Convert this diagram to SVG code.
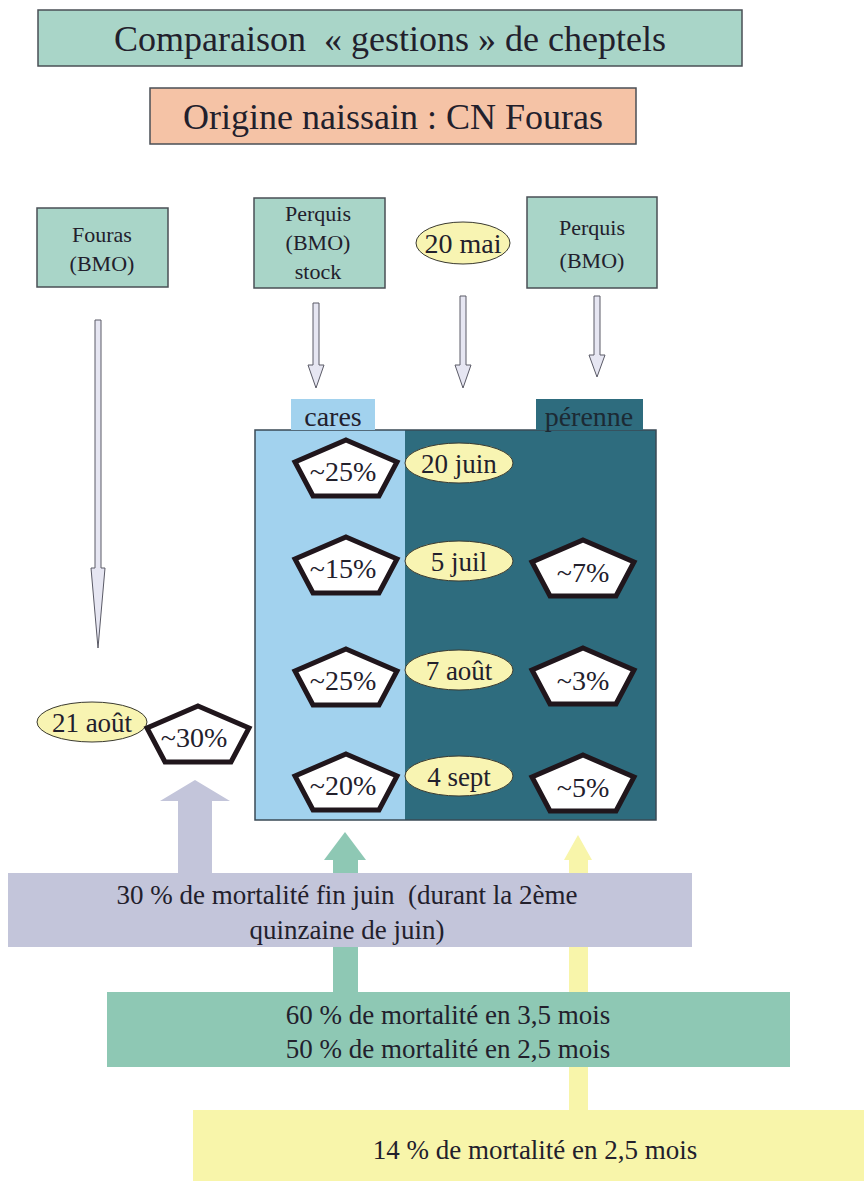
<svg xmlns="http://www.w3.org/2000/svg" width="864" height="1181" viewBox="0 0 864 1181">
<defs>
<path id="pent" d="M0,-29 L51,-7 L33,27 L-33,27 L-51,-7 Z" fill="#ffffff" stroke="#20161c" stroke-width="5"/>
</defs>
<rect width="864" height="1181" fill="#ffffff"/>

<g id="title">
<rect x="38" y="10" width="704" height="56" fill="#a9d5c8" stroke="#4a4f55" stroke-width="1.5"/>
<text x="390" y="51" font-size="36" font-family="Liberation Serif, serif" fill="#22202c" text-anchor="middle" xml:space="preserve">Comparaison  « gestions » de cheptels</text>
</g>
<g id="origine">
<rect x="150" y="88" width="486" height="56" fill="#f5c3a6" stroke="#4a4f55" stroke-width="1.5"/>
<text x="393" y="129" font-size="36" font-family="Liberation Serif, serif" fill="#22202c" text-anchor="middle">Origine naissain : CN Fouras</text>
</g>

<g id="fouras">
<rect x="37" y="208" width="131" height="79" fill="#a9d5c8" stroke="#4a4f55" stroke-width="1.5"/>
<text x="102" y="242" font-size="22" font-family="Liberation Serif, serif" fill="#22202c" text-anchor="middle">Fouras</text>
<text x="102" y="271" font-size="22" font-family="Liberation Serif, serif" fill="#22202c" text-anchor="middle">(BMO)</text>
</g>
<g id="perquis-stock">
<rect x="254" y="198" width="131" height="90" fill="#a9d5c8" stroke="#4a4f55" stroke-width="1.5"/>
<text x="318" y="221" font-size="22" font-family="Liberation Serif, serif" fill="#22202c" text-anchor="middle">Perquis</text>
<text x="318" y="250" font-size="22" font-family="Liberation Serif, serif" fill="#22202c" text-anchor="middle">(BMO)</text>
<text x="318" y="279" font-size="22" font-family="Liberation Serif, serif" fill="#22202c" text-anchor="middle">stock</text>
</g>
<g id="mai20">
<ellipse cx="463" cy="243" rx="47" ry="21" fill="#f8f4b2" stroke="#3a3a30" stroke-width="1"/>
<text x="463" y="253" font-size="28" font-family="Liberation Serif, serif" fill="#22202c" text-anchor="middle">20 mai</text>
</g>
<g id="perquis">
<rect x="527" y="197" width="130" height="91" fill="#a9d5c8" stroke="#4a4f55" stroke-width="1.5"/>
<text x="592" y="235" font-size="22" font-family="Liberation Serif, serif" fill="#22202c" text-anchor="middle">Perquis</text>
<text x="592" y="268" font-size="22" font-family="Liberation Serif, serif" fill="#22202c" text-anchor="middle">(BMO)</text>
</g>

<g id="connectors" fill="#e6e6f2" stroke="#5a5a66" stroke-width="1">
<path d="M95,320 H101 V568 H105 L98,648 L91,568 H95 Z"/>
<path d="M313,303 H319 V365 H324 L316,388 L308,365 H313 Z"/>
<path d="M460,296 H466 V365 H471 L463,388 L455,365 H460 Z"/>
<path d="M594,296 H600 V355 H605 L597,377 L589,355 H594 Z"/>
<path d="M455,486 H461 V518 H465 L458,535 L451,518 H455 Z"/>
<path d="M455,593 H461 V624 H465 L458,641 L451,624 H455 Z"/>
<path d="M455,699 H461 V728 H465 L458,745 L451,728 H455 Z"/>
<path d="M178,873 V801 H160 L195,780 L230,801 H212 V873 Z" fill="#c3c5da" stroke="none"/>
<path d="M333,992 V860 H324 L345,832 L366,860 H358 V992 Z" fill="#8ec8b4" stroke="none"/>
<path d="M569,1110 V860 H564 L578,835 L592,860 H588 V1110 Z" fill="#f8f5aa" stroke="none"/>
</g>

<g id="panel">
<rect x="255" y="430" width="150" height="390" fill="#a2d2ee"/>
<rect x="405" y="430" width="251" height="390" fill="#2e6c7e"/>
<rect x="255" y="430" width="401" height="390" fill="none" stroke="#3a4a55" stroke-width="1.5"/>
</g>
<g id="cares">
<rect x="291" y="399" width="84" height="31" fill="#a2d2ee"/>
<text x="333" y="426" font-size="28" font-family="Liberation Serif, serif" fill="#22202c" text-anchor="middle">cares</text>
</g>
<g id="perenne">
<rect x="536" y="399" width="107" height="31" fill="#2e6c7e"/>
<text x="589" y="426" font-size="28" font-family="Liberation Serif, serif" fill="#1c2a34" text-anchor="middle">pérenne</text>
</g>

<g id="dates">
<g id="d1"><ellipse cx="459" cy="463" rx="54" ry="20" fill="#f8f4b2" stroke="#3a3a30" stroke-width="1"/><text x="459" y="473" font-size="27" font-family="Liberation Serif, serif" fill="#22202c" text-anchor="middle">20 juin</text></g>
<g id="d2"><ellipse cx="459" cy="561" rx="54" ry="20" fill="#f8f4b2" stroke="#3a3a30" stroke-width="1"/><text x="459" y="571" font-size="27" font-family="Liberation Serif, serif" fill="#22202c" text-anchor="middle">5 juil</text></g>
<g id="d3"><ellipse cx="459" cy="670" rx="54" ry="20" fill="#f8f4b2" stroke="#3a3a30" stroke-width="1"/><text x="459" y="680" font-size="27" font-family="Liberation Serif, serif" fill="#22202c" text-anchor="middle">7 août</text></g>
<g id="d4"><ellipse cx="459" cy="776" rx="54" ry="20" fill="#f8f4b2" stroke="#3a3a30" stroke-width="1"/><text x="459" y="786" font-size="27" font-family="Liberation Serif, serif" fill="#22202c" text-anchor="middle">4 sept</text></g>
<g id="d5"><ellipse cx="92" cy="722" rx="55" ry="20" fill="#f8f4b2" stroke="#3a3a30" stroke-width="1"/><text x="92" y="732" font-size="27" font-family="Liberation Serif, serif" fill="#22202c" text-anchor="middle">21 août</text></g>
</g>

<g id="pentagons">
<g id="p1"><use href="#pent" x="346" y="469"/><text x="343" y="481" font-size="28" font-family="Liberation Serif, serif" fill="#22202c" text-anchor="middle">~25%</text></g>
<g id="p2"><use href="#pent" x="346" y="566"/><text x="343" y="578" font-size="28" font-family="Liberation Serif, serif" fill="#22202c" text-anchor="middle">~15%</text></g>
<g id="p3"><use href="#pent" x="346" y="678"/><text x="343" y="690" font-size="28" font-family="Liberation Serif, serif" fill="#22202c" text-anchor="middle">~25%</text></g>
<g id="p4"><use href="#pent" x="346" y="783"/><text x="343" y="795" font-size="28" font-family="Liberation Serif, serif" fill="#22202c" text-anchor="middle">~20%</text></g>
<g id="p5"><use href="#pent" x="583" y="569"/><text x="583" y="582" font-size="28" font-family="Liberation Serif, serif" fill="#22202c" text-anchor="middle">~7%</text></g>
<g id="p6"><use href="#pent" x="583" y="677"/><text x="583" y="690" font-size="28" font-family="Liberation Serif, serif" fill="#22202c" text-anchor="middle">~3%</text></g>
<g id="p7"><use href="#pent" x="583" y="784"/><text x="583" y="797" font-size="28" font-family="Liberation Serif, serif" fill="#22202c" text-anchor="middle">~5%</text></g>
<g id="p8"><use href="#pent" x="198" y="735"/><text x="194" y="747" font-size="28" font-family="Liberation Serif, serif" fill="#22202c" text-anchor="middle">~30%</text></g>
</g>

<g id="note-grey">
<rect x="8" y="873" width="684" height="74" fill="#c3c5da"/>
<text x="347" y="904" font-size="27" font-family="Liberation Serif, serif" fill="#22202c" text-anchor="middle" xml:space="preserve">30 % de mortalité fin juin  (durant la 2ème</text>
<text x="347" y="939" font-size="27" font-family="Liberation Serif, serif" fill="#22202c" text-anchor="middle">quinzaine de juin)</text>
</g>
<g id="note-teal">
<rect x="107" y="992" width="683" height="75" fill="#8ec8b4"/>
<text x="448" y="1024" font-size="27" font-family="Liberation Serif, serif" fill="#22202c" text-anchor="middle">60 % de mortalité en 3,5 mois</text>
<text x="448" y="1058" font-size="27" font-family="Liberation Serif, serif" fill="#22202c" text-anchor="middle">50 % de mortalité en 2,5 mois</text>
</g>
<g id="note-yellow">
<rect x="193" y="1110" width="671" height="71" fill="#f8f5aa"/>
<text x="535" y="1159" font-size="27" font-family="Liberation Serif, serif" fill="#22202c" text-anchor="middle">14 % de mortalité en 2,5 mois</text>
</g>
</svg>
